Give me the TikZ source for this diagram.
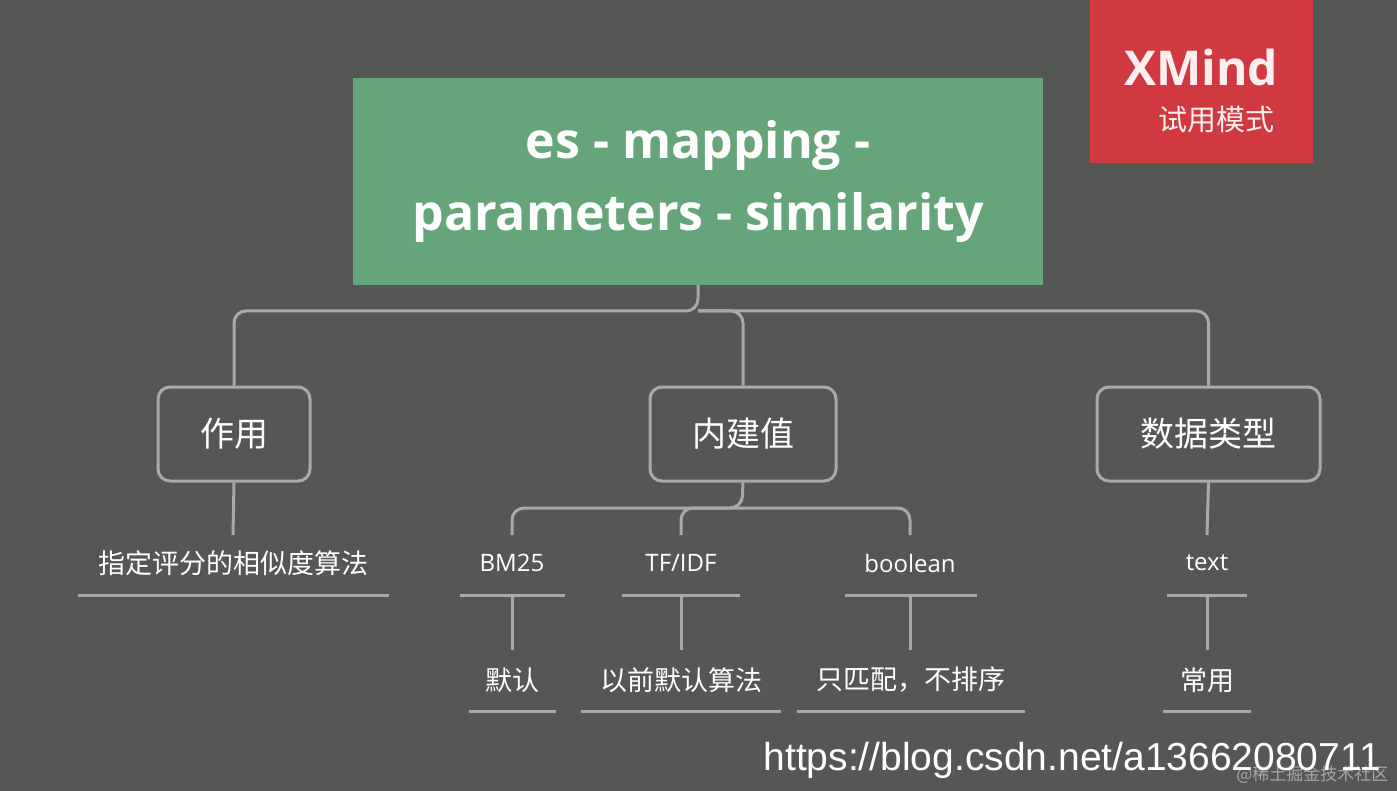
\documentclass[tikz,border=0pt]{standalone}
\usepackage{fontspec}
\setmainfont{Open Sans}
\newfontfamily\cjk{Noto Sans CJK SC}
\newfontfamily\lib{Liberation Sans}
\definecolor{bg}{HTML}{555755}
\definecolor{gr}{HTML}{66A57A}
\definecolor{rd}{HTML}{D0393F}
\definecolor{ln}{HTML}{A9A9A9}
\begin{document}
\begin{tikzpicture}[x=1pt,y=-1pt,
  conn/.style={draw=ln,line width=3pt,rounded corners=12pt},
  topic/.style={draw=ln,line width=3pt,rounded corners=12pt,minimum height=94pt,text=white,font=\cjk\fontsize{34}{38}\selectfont},
  leaf/.style={text=white,font=\cjk\fontsize{27}{30}\selectfont},
  uline/.style={draw=ln,line width=3pt}]
\fill[bg] (0,0) rectangle (1397,791);
\useasboundingbox (0,0) rectangle (1397,791);
\fill[rd] (1090,0) rectangle (1313,163);
\node[text=white!92!rd,font=\bfseries\fontsize{48}{50}\selectfont] (xm) at (1201,68) {XMind};
\node[text=white!92!rd,font=\cjk\fontsize{29}{32}\selectfont] (xs) at (1216,120) {试用模式};
\node[fill=gr,minimum width=690pt,minimum height=207pt,text=white,align=center,font=\bfseries\fontsize{50}{72}\selectfont] (root) at (698,181.5) {es - mapping -\\parameters - similarity};
\node[topic,minimum width=152pt] (a) at (234,434) {作用};
\node[topic,minimum width=186pt] (b) at (743,434) {内建值};
\node[topic,minimum width=223pt] (c) at (1208.5,434) {数据类型};
\coordinate (rj) at (698,311);
\draw[conn] (root.south) -- (rj) -| (a.north);
\draw[conn] (rj) -| (b.north);
\draw[conn] (rj) -| (c.north);
\node[leaf] (a1) at (233,563) {指定评分的相似度算法};
\node[leaf,font=\fontsize{24}{28}\selectfont] (b1) at (512,563) {BM25};
\node[leaf,font=\fontsize{24}{28}\selectfont] (b2) at (681,563) {TF/IDF};
\node[leaf,font=\fontsize{24}{28}\selectfont] (b3) at (910,563) {boolean};
\node[leaf,font=\fontsize{24}{28}\selectfont] (c1) at (1207,563) {text};
\draw[uline] (78,595) -- (389,595);
\draw[uline] (460,595) -- (565,595);
\draw[uline] (622,595) -- (740,595);
\draw[uline] (845,595) -- (977,595);
\draw[uline] (1167,595) -- (1247,595);
\draw[conn] (a.south) -- (233,535);
\draw[conn] (c.south) -- (1207,535);
\coordinate (bj) at (742,508);
\draw[conn] (b.south) -- (bj) -| (512,535);
\draw[conn] (bj) -| (681,535);
\draw[conn] (bj) -| (910,535);
\node[leaf] (b1a) at (512,680) {默认};
\node[leaf] (b2a) at (681,680) {以前默认算法};
\node[leaf] (b3a) at (911,680) {只匹配，不排序};
\node[leaf] (c1a) at (1207,680) {常用};
\foreach \x in {512,681,910,1207} \draw[uline] (\x,595) -- (\x,650);
\draw[uline] (469,711) -- (556,711);
\draw[uline] (581,711) -- (781,711);
\draw[uline] (797,711) -- (1025,711);
\draw[uline] (1163,711) -- (1251,711);
\node[text=gray!70,font=\cjk\fontsize{17}{20}\selectfont,anchor=east] (wm2) at (1392,775) {@稀土掘金技术社区};
\node[text=white,font=\lib\fontsize{39}{44}\selectfont,anchor=west] (wm) at (760,760) {https://blog.csdn.net/a13662080711};
\end{tikzpicture}
\end{document}
